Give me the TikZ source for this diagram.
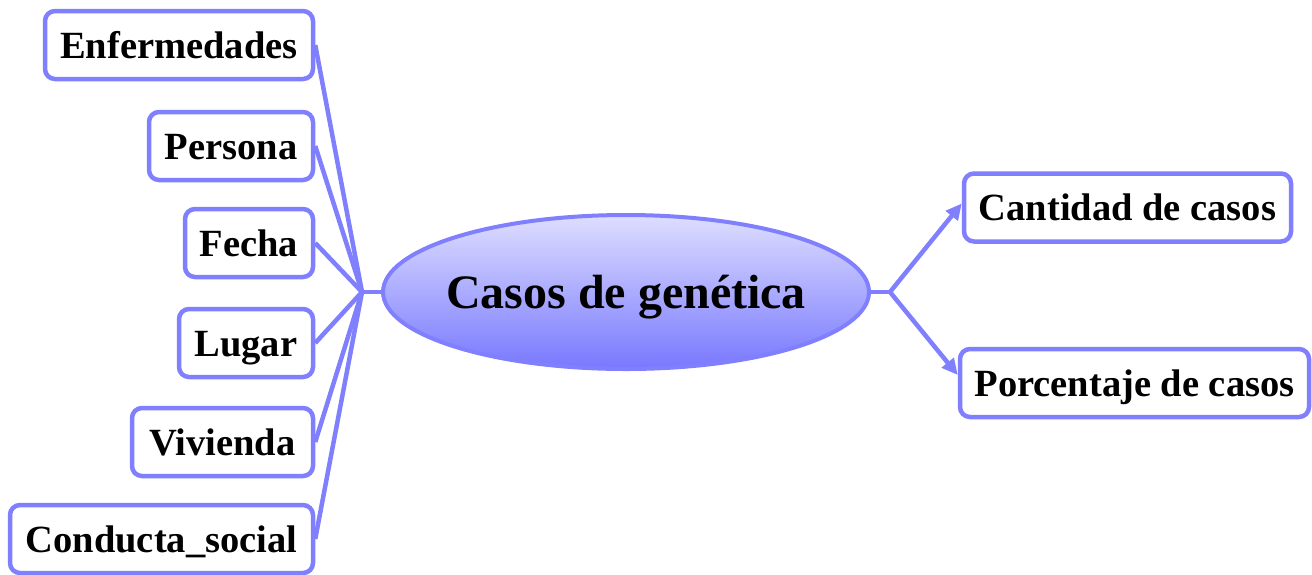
\documentclass[tikz,border=0pt]{standalone}
\usepackage{fontspec}
\setmainfont{Liberation Serif}
\usetikzlibrary{shapes.geometric,arrows.meta}
\definecolor{lineblue}{RGB}{128,128,255}
\definecolor{elltop}{RGB}{222,222,255}
\definecolor{ellbot}{RGB}{120,120,255}
\begin{document}
\begin{tikzpicture}[x=1pt,y=-1pt,
  leaf/.style={draw=lineblue, line width=4.5pt, rounded corners=10pt, fill=white,
    minimum height=68pt, inner xsep=0pt, anchor=center,
    font=\fontsize{38.5}{40}\selectfont\bfseries, text height=26pt, text depth=0pt},
  link/.style={draw=lineblue, line width=4.5pt},
  arrowlink/.style={link, -{Triangle[length=16pt,width=15pt]}},
  center/.style={ellipse, draw=lineblue, line width=4pt, top color=elltop, bottom color=ellbot,
    minimum width=486pt, minimum height=154pt, inner xsep=-12pt, inner ysep=0pt,
    font=\fontsize{48}{50}\selectfont\bfseries, text height=32pt, text depth=0pt}]
\useasboundingbox (0,0) rectangle (1312,574);
% central node
\node[center] (main) at (626,292) {Casos de genética};
% left leaves
\node[leaf, minimum width=268pt] (enf) at (179,45) {Enfermedades};
\node[leaf, minimum width=164pt] (per) at (231,146) {Persona};
\node[leaf, minimum width=128pt] (fec) at (249,243) {Fecha};
\node[leaf, minimum width=134pt] (lug) at (246,343) {Lugar};
\node[leaf, minimum width=181pt] (viv) at (222.5,442) {Vivienda};
\node[leaf, minimum width=303pt] (con) at (161.5,539) {Conducta\_social};
% right leaves
\node[leaf, minimum width=327pt] (can) at (1127.5,207.5) {Cantidad de casos};
\node[leaf, minimum width=349pt] (por) at (1134.5,383) {Porcentaje de casos};
% hubs
\coordinate (hubL) at (362,292);
\coordinate (hubR) at (890,292);
% connectors
\draw[link] (hubL) -- (main.west);
\foreach \n in {enf,per,fec,lug,viv,con}{
  \draw[link] (hubL) -- (\n.east);
}
\draw[link] (main.east) -- (hubR);
\draw[arrowlink] (hubR) -- ([yshift=4pt]can.west);
\draw[arrowlink] (hubR) -- ([yshift=8pt]por.west);
\end{tikzpicture}
\end{document}
